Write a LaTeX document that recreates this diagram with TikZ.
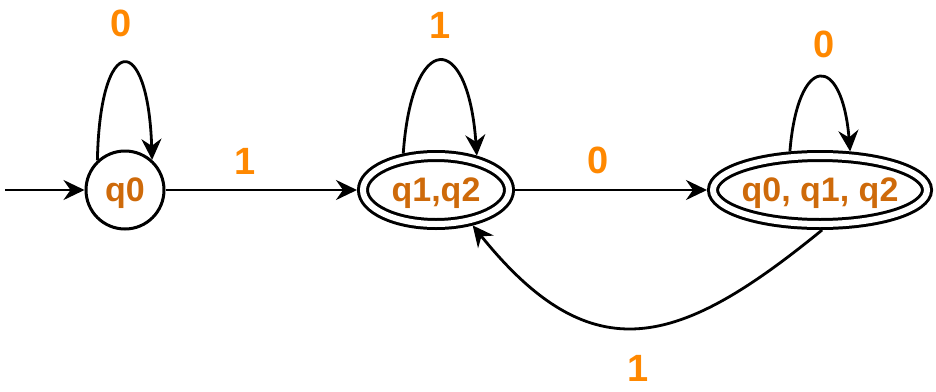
\documentclass[tikz,border=0pt]{standalone}
\usepackage{fontspec}
\setmainfont{Liberation Sans}
\usetikzlibrary{arrows.meta,shapes.geometric}
\definecolor{lblorange}{RGB}{255,136,0}
\definecolor{txtorange}{RGB}{206,106,10}

\begin{document}
\begin{tikzpicture}[x=1pt, y=-1pt,
  every node/.style={font=\bfseries\fontsize{34}{34}\selectfont},
  state/.style={circle, draw, line width=3pt, minimum size=78pt, inner sep=0pt, text=txtorange, text depth=0pt},
  acc/.style={ellipse, draw, line width=3pt, double, double distance=6pt, inner sep=0pt, inner xsep=-3pt,
              minimum height=68pt, text=txtorange, text depth=0pt, outer sep=6pt},
  lbl/.style={text=lblorange, font=\bfseries\fontsize{38}{38}\selectfont},
  tr/.style={line width=2.8pt, -{Stealth[length=21pt, width=20pt, inset=7pt]}}]
  \useasboundingbox (0,0) rectangle (936,391);
  % ---- states ----
  \node[state] (q0) at (125,190) {q0};
  \node[acc, minimum width=146pt] (q12) at (436,190) {q1,q2};
  \node[acc, minimum width=214pt] (q012) at (820,190) {q0, q1, q2};
  \coordinate (init) at (5,190);
  % ---- transitions ----
  \draw[tr] (init) -- (q0);
  \draw[tr] (q0) -- (q12);
  \draw[tr] (q12) -- (q012);
  \draw[tr] (q012.-87) .. controls (680,346) and (593,375) .. (q12.-44);
  % ---- self loops ----
  \draw[tr] (q0.133) .. controls (100,31) and (148,31) .. (q0.48);
  \draw[tr] (q12.132) .. controls (412,30) and (468,30) .. (q12.40);
  \draw[tr] (q012.128) .. controls (798,53) and (842,53) .. (q012.52);
  % ---- input symbols ----
  \node[lbl] (l00) at (121,23) {0};
  \node[lbl] (l01) at (245,161) {1};
  \node[lbl] (l11) at (440,25) {1};
  \node[lbl] (l10) at (598,160) {0};
  \node[lbl] (l20) at (824,44) {0};
  \node[lbl] (l21) at (638,368) {1};
\end{tikzpicture}
\end{document}
